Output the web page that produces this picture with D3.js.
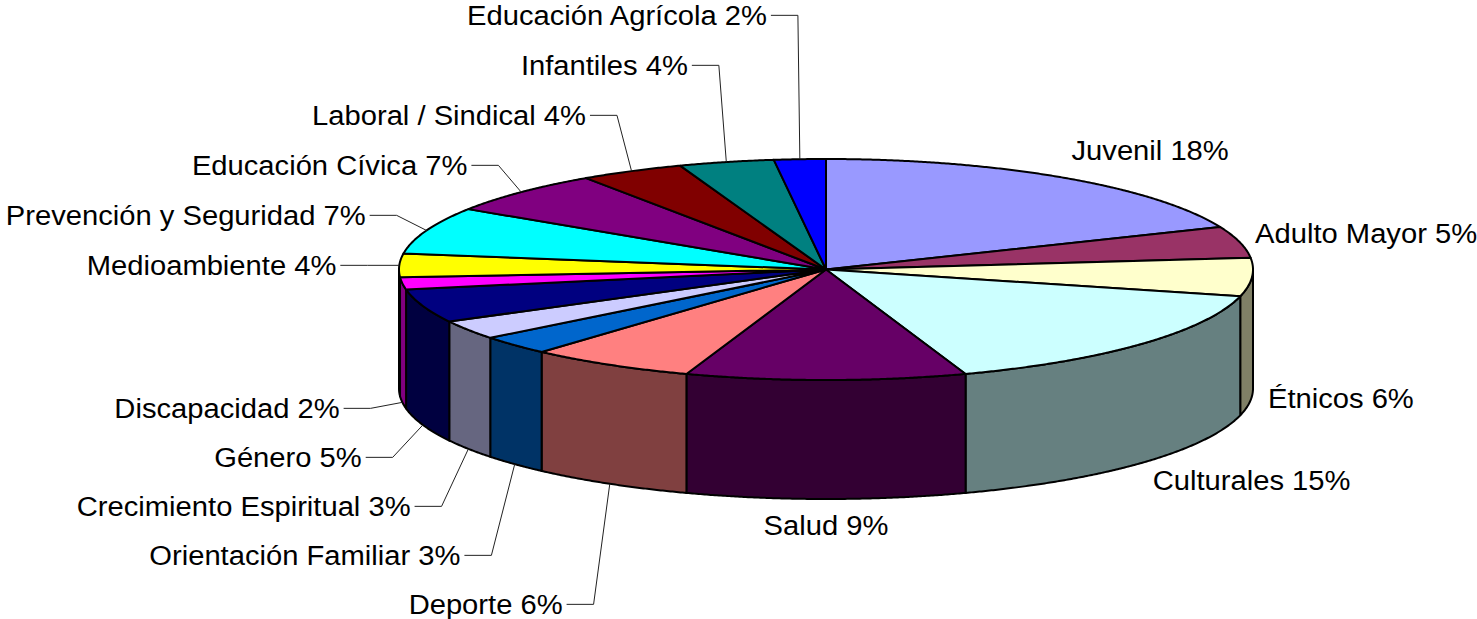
<!DOCTYPE html>
<html>
<head>
<meta charset="utf-8">
<script src="https://cdn.jsdelivr.net/npm/d3@7"></script>
<style>
  html, body { margin: 0; padding: 0; background: #fff; }
  svg { display: block; }
  text { font-family: "Liberation Sans", Arial, sans-serif; fill: #000; }
</style>
</head>
<body>
<svg id="chart" width="1477" height="619"></svg>
<script>
// ---- Data ----
const categories = ["Juvenil", "Adulto Mayor", "Étnicos", "Culturales", "Salud", "Deporte",
  "Orientación Familiar", "Crecimiento Espiritual", "Género", "Discapacidad", "Medioambiente",
  "Prevención y Seguridad", "Educación Cívica", "Laboral / Sindical", "Infantiles", "Educación Agrícola"];
// slice shares as measured from the slice angles
const values = [18.7, 4.6, 5.6, 15.8, 10.6, 6.3, 2.8, 2.8, 4.9, 1.8, 3.4, 6.9, 6.3, 3.95, 3.6, 1.95];
// percentages printed in the labels
const percentLabels = [18, 5, 6, 15, 9, 6, 3, 3, 5, 2, 4, 7, 7, 4, 4, 2];
const colors = ["#9999FF", "#993366", "#FFFFCC", "#CCFFFF", "#660066", "#FF8080", "#0066CC", "#CCCCFF",
  "#000080", "#FF00FF", "#FFFF00", "#00FFFF", "#800080", "#800000", "#008080", "#0000FF"];

// ---- Layout ----
const cx = 826, cy = 269.5, rx = 427, ry = 110.5, depth = 119;
const fontSize = 27, stretch = 1.08;
const svg = d3.select("#chart");

const pie = d3.pie().sort(null).value(d => d.value).startAngle(0).endAngle(2 * Math.PI);
const data = categories.map((c, i) => ({ name: c, value: values[i], pct: percentLabels[i], color: colors[i] }));
const arcs = pie(data);

const proj = (a, dz) => [cx + rx * Math.sin(a), cy - ry * Math.cos(a) + dz];
const line = d3.line();
function arcPts(a0, a1, dz) {
  const n = Math.max(2, Math.ceil(Math.abs(a1 - a0) / 0.005));
  return d3.range(n + 1).map(k => proj(a0 + (a1 - a0) * k / n, dz));
}
const darken = c => { const r = d3.rgb(c); return d3.rgb(r.r * 0.5, r.g * 0.5, r.b * 0.5).formatHex(); };

// Side walls (visible front half: pi/2 .. 3pi/2)
const sides = svg.append("g");
arcs.forEach(d => {
  const a0 = Math.max(d.startAngle, Math.PI / 2), a1 = Math.min(d.endAngle, 3 * Math.PI / 2);
  if (a1 <= a0) return;
  const pts = arcPts(a0, a1, 0).concat(arcPts(a1, a0, depth));
  sides.append("path").attr("d", line(pts) + "Z")
    .attr("fill", darken(d.data.color)).attr("stroke", "#000").attr("stroke-width", 2)
    .attr("stroke-linejoin", "round");
});

// Top faces
const tops = svg.append("g");
arcs.forEach(d => {
  const pts = [[cx, cy]].concat(arcPts(d.startAngle, d.endAngle, 0));
  tops.append("path").attr("d", line(pts) + "Z")
    .attr("fill", d.data.color).attr("stroke", "#000").attr("stroke-width", 2)
    .attr("stroke-linejoin", "round");
});

// ---- Labels ----
const labels = svg.append("g");
const capHalf = fontSize * 0.716 / 2;
function addText(x, yc, anchor, str) {
  labels.append("text")
    .attr("transform", `translate(${x},${yc + capHalf}) scale(${stretch},1)`)
    .attr("text-anchor", anchor).attr("font-size", fontSize)
    .text(str);
}
const items = arcs.map(d => {
  const mid = (d.startAngle + d.endAngle) / 2;
  const front = Math.cos(mid) < 0;
  const rim = proj(mid, front ? depth : 0);
  return { d, mid, front, rim, s: Math.sin(mid), c: Math.cos(mid) };
});

// Left side: stacked labels with leader lines
const left = items.filter(it => it.s < -0.01);
const topGroup = left.filter(it => !it.front).sort((a, b) => b.rim[1] - a.rim[1]);
const frontGroup = left.filter(it => it.front).sort((a, b) => a.rim[1] - b.rim[1]);
let prev = Infinity;
topGroup.forEach(it => { it.y = Math.min(it.rim[1], prev - 50); prev = it.y; });
prev = -Infinity;
frontGroup.forEach(it => { it.y = Math.max(it.rim[1] + 6, prev + 49); prev = it.y; });

left.forEach(it => {
  const elbowX = it.rim[0] - 32 * Math.abs(it.s);
  labels.append("path")
    .attr("d", line([[elbowX - 27, it.y], [elbowX, it.y], it.rim]))
    .attr("fill", "none").attr("stroke", "#222").attr("stroke-width", 1);
  addText(elbowX - 31, it.y, "end", `${it.d.data.name} ${it.d.data.pct}%`);
});

// Right side / bottom: labels next to the slice
items.filter(it => it.s >= -0.01).forEach(it => {
  const yc = it.rim[1] - it.c * (it.front ? 26 : 33);
  const centered = Math.abs(it.s) < 0.1;
  addText(centered ? it.rim[0] : it.rim[0] + 16 * it.s, yc,
    centered ? "middle" : "start", `${it.d.data.name} ${it.d.data.pct}%`);
});
</script>
</body>
</html>
